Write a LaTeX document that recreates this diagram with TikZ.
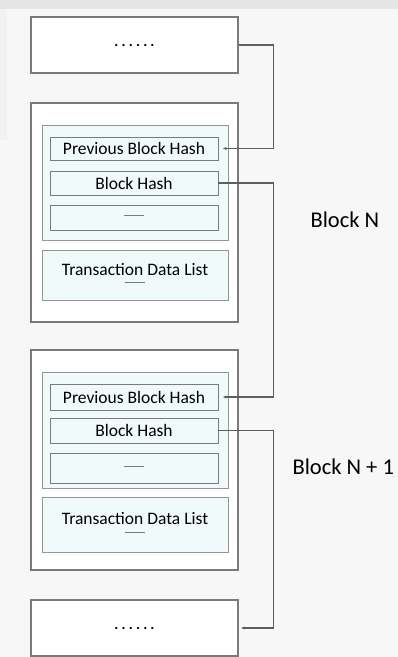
\documentclass[tikz,border=0pt]{standalone}
\usepackage{fontspec}
\setmainfont{Carlito}
\usetikzlibrary{arrows.meta}
\definecolor{edge}{HTML}{7A7A7A}
\definecolor{wire}{HTML}{5E5E5E}
\definecolor{pale}{HTML}{F1FAFA}
\newcommand\dotrow{.\kern3.2pt.\kern3.2pt.\kern3.2pt.\kern3.2pt.\kern3.2pt.}
\newcommand\filler{\textcolor{edge}{\rule[4pt]{20pt}{0.7pt}}}
\tikzset{
  blockbox/.style={draw=edge, line width=1.1pt, fill=white, inner sep=0pt, minimum width=207pt},
  headbox/.style={draw=edge!80, line width=0.8pt, fill=pale, inner sep=0pt, minimum width=186pt},
  fieldbox/.style={draw=edge, line width=0.8pt, fill=pale, inner sep=0pt, minimum width=168pt, font=\fontsize{17.5}{18}\selectfont},
  link/.style={draw=wire, line width=1.2pt, -{Latex[length=4pt,width=3pt]}},
}

\begin{document}
\begin{tikzpicture}[x=1pt,y=-1pt]
        \useasboundingbox (0,0) rectangle (398,657);
        \fill[white!97!black] (0,0) rectangle (398,657);
        \fill[black!10] (0,0) rectangle (398,9);
        \fill[black!5] (0,9) rectangle (7,140);

        \node[blockbox, minimum height=56pt, font=\fontsize{15}{16}\selectfont\bfseries] (prev) at (134.5,45) {\dotrow};

        \node[blockbox, minimum height=219pt] (blkN) at (134.5,212.5) {};
        \node[headbox, minimum height=115pt] (headN) at (135,182.5) {};
        \node[fieldbox, minimum height=23pt] (pbhN) at (134,148.5) {Previous Block Hash};
        \node[fieldbox, minimum height=24pt] (bhN) at (134,183) {Block Hash};
        \node[fieldbox, minimum height=25pt] (etcN) at (134,217.5) {\filler};
        \node[headbox, minimum height=50pt, align=center, font=\fontsize{17.5}{18}\selectfont] (txN) at (135,275)
          {Transaction Data List\\[-6pt]\filler};

        \node[blockbox, minimum height=220pt] (blkM) at (134.5,460) {};
        \node[headbox, minimum height=116pt] (headM) at (135,430) {};
        \node[fieldbox, minimum height=26pt] (pbhM) at (134,397) {Previous Block Hash};
        \node[fieldbox, minimum height=25pt] (bhM) at (134,430.5) {Block Hash};
        \node[fieldbox, minimum height=30pt] (etcM) at (134,468) {\filler};
        \node[headbox, minimum height=55pt, align=center, font=\fontsize{17.5}{18}\selectfont] (txM) at (135,524.5)
          {Transaction Data List\\[-6pt]\filler};

        \node[blockbox, minimum height=56pt, font=\fontsize{15}{16}\selectfont\bfseries] (next) at (134.5,628) {\dotrow};

        \node[font=\fontsize{22.5}{24}\selectfont, anchor=west] (lblN) at (307,220) {Block N};
        \node[font=\fontsize{22.5}{24}\selectfont, anchor=west] (lblM) at (289,467) {Block N + 1};

        \draw[link] (prev.east) -- ++(35,0) |- ([xshift=4pt]pbhN.east);
        \draw[link] (bhN.east) -- ++(55,0) |- ([xshift=4pt]pbhM.east);
        \draw[link] (bhM.east) -- ++(55,0) |- ([xshift=2pt]next.east);
      \end{tikzpicture}
\end{document}
